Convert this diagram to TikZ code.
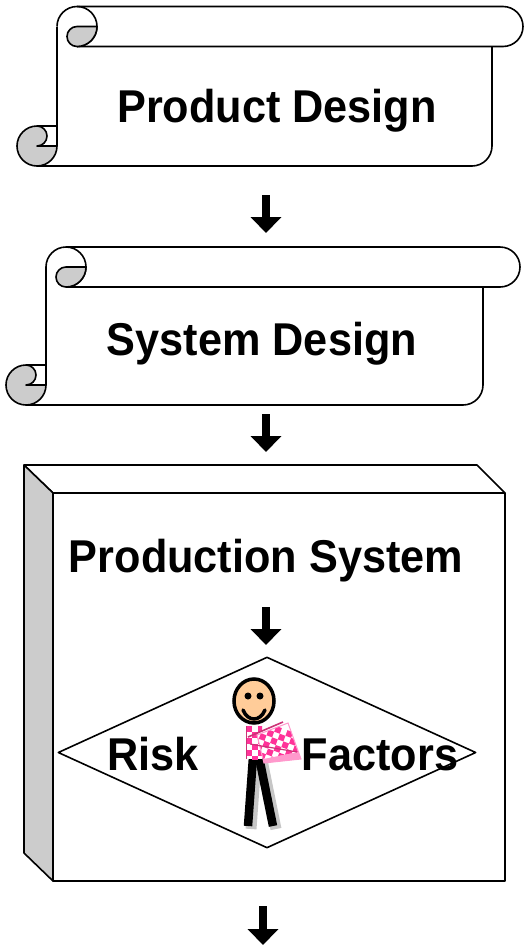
\documentclass[tikz,border=0pt]{standalone}
\usepackage{fontspec}
\setmainfont{Liberation Sans}
\usetikzlibrary{arrows.meta,shapes.geometric}

\definecolor{curlgrey}{RGB}{204,204,204}
\definecolor{faceskin}{RGB}{255,204,153}
\definecolor{hotpink}{RGB}{255,51,153}
\definecolor{darkpink}{RGB}{204,51,119}
\definecolor{lightpink}{RGB}{255,153,204}

\tikzset{
  outline/.style={line width=1.6pt, line join=round},
  bigtext/.style={font=\bfseries\fontsize{46}{52}\selectfont, xscale=0.94,
                  inner sep=0pt, anchor=base},
  flowarrow/.style={line width=8pt, -{Triangle[width=30pt,length=16pt]}},
}

% Scroll banner: #1 sheet left x, #2 top y, #3 sheet right x, #4 roll right x, #5 bottom y
\newcommand\scrollshape[5]{%
  % top roll
  \draw[outline] ({#1+20},#2) -- ({#4-20},#2)
    arc[start angle=-90,end angle=90,radius=20] -- ({#1+20},{#2+40});
  \draw[outline] (#1,{#2+20}) arc[start angle=180,end angle=450,radius=20];
  \filldraw[outline,fill=curlgrey] ({#1+20},{#2+40})
    arc[start angle=90,end angle=270,radius=10] -- ({#1+40},{#2+20})
    arc[start angle=0,end angle=90,radius=20] -- cycle;
  % sheet
  \draw[outline] (#1,{#2+20}) -- (#1,{#5-20});
  \draw[outline] ({#1-20},#5) -- ({#3-20},#5)
    arc[start angle=90,end angle=0,radius=20] -- (#3,{#2+40});
  % bottom roll
  \filldraw[outline,fill=curlgrey] ({#1-20},{#5-40})
    arc[start angle=270,end angle=0,radius=20] -- ({#1-20},{#5-20})
    arc[start angle=90,end angle=-90,radius=10] -- cycle;
  \draw[outline] ({#1-20},{#5-40}) -- (#1,{#5-40});
}

% checkerboard of 6pt squares starting at (#1,#2)
\newcommand\checkerfill[2]{%
  \foreach \cx in {0,...,10} \foreach \cy in {0,...,10} {%
    \pgfmathtruncatemacro\parity{mod(\cx+\cy,2)}%
    \ifnum\parity=0
      \fill[hotpink] ({#1+6*\cx},{#2+6*\cy}) rectangle ++(6,6);
    \fi
  }%
}

\begin{document}
\begin{tikzpicture}[x=1pt,y=-1pt]
  \useasboundingbox (0,0) rectangle (529,946);

  % --- Product Design scroll
  \scrollshape{57}{6.5}{492}{523}{166}
  \node[bigtext] (pdtext) at (277,122) {Product Design};

  % --- System Design scroll
  \scrollshape{46}{247}{483}{520}{405}
  \node[bigtext] (sdtext) at (262,355) {System Design};

  % --- Production System block
  \node[draw, outline, minimum width=452pt, minimum height=388pt,
        inner sep=0pt, outer sep=0pt, anchor=north west] (prodsys) at (53,493) {};
  \draw[outline] (prodsys.north west) -- (24,465) -- (477,465) -- (prodsys.north east);
  \filldraw[outline, fill=curlgrey] (prodsys.north west) -- (24,465) -- (24,853)
    -- (prodsys.south west) -- cycle;
  \node[bigtext] (pstext) at (266,572) {Production System};

  % --- Risk factors diamond
  \node[draw, outline, diamond, minimum width=418pt, minimum height=191pt,
        inner sep=0pt] (risk) at (267,752.5) {};
  \node[bigtext] (risktext) at (153,770) {Risk};
  \node[bigtext] (factext) at (380,770) {Factors};

  % --- stick figure
  % leg shadows
  \draw[line width=11pt, gray!45] (256,760) -- (251,829);
  \draw[line width=11pt, gray!45] (262,760) -- (276,829);
  % legs
  \draw[line width=8.5pt] (253,757) -- (248,826);
  \draw[line width=8.5pt] (259,757) -- (273,826);
  % torso
  \begin{scope}
    \clip (246,726) rectangle (262,759);
    \fill[white] (246,726) rectangle (262,759);
    \checkerfill{246}{726}
  \end{scope}
  \draw[darkpink, line width=1.5pt] (246.5,726) -- (246.5,759);
  % scarf
  \fill[lightpink] (257,735) -- (288,723) -- (301,759) -- (264,763) -- cycle;
  \begin{scope}
    \clip (257,735) -- (288,723) -- (298,752) -- (263,759) -- cycle;
    \fill[white] (250,715) rectangle (305,765);
    \begin{scope}[rotate around={-20:(257,735)}]
      \checkerfill{248}{720}
    \end{scope}
  \end{scope}
  \draw[lightpink, line width=1pt] (257,735) -- (288,723) -- (301,759) -- (264,763) -- cycle;
  \draw[darkpink, line width=1.6pt] (248,737) -- (283,722);
  \draw[darkpink, line width=1.2pt] (250,744) -- (297,752);
  % head
  \filldraw[fill=faceskin, line width=3.5pt] (254,701) ellipse[x radius=20, y radius=22];
  \fill (248,696) circle[radius=3.5];
  \fill (260,696) circle[radius=3.5];
  \draw[line width=3.5pt, line cap=round] (243,710) .. controls (248,722) and (260,722) .. (265,710);

  % --- flow arrows
  \coordinate (a1s) at (266,195); \coordinate (a1e) at (266,233);
  \coordinate (a2s) at (266,414); \coordinate (a2e) at (266,452);
  \coordinate (a3s) at (266,607); \coordinate (a3e) at (266,645);
  \coordinate (a4s) at (263,906); \coordinate (a4e) at (263,945);
  \draw[flowarrow] (a1s) -- (a1e);
  \draw[flowarrow] (a2s) -- (a2e);
  \draw[flowarrow] (a3s) -- (a3e);
  \draw[flowarrow] (a4s) -- (a4e);
\end{tikzpicture}
\end{document}
